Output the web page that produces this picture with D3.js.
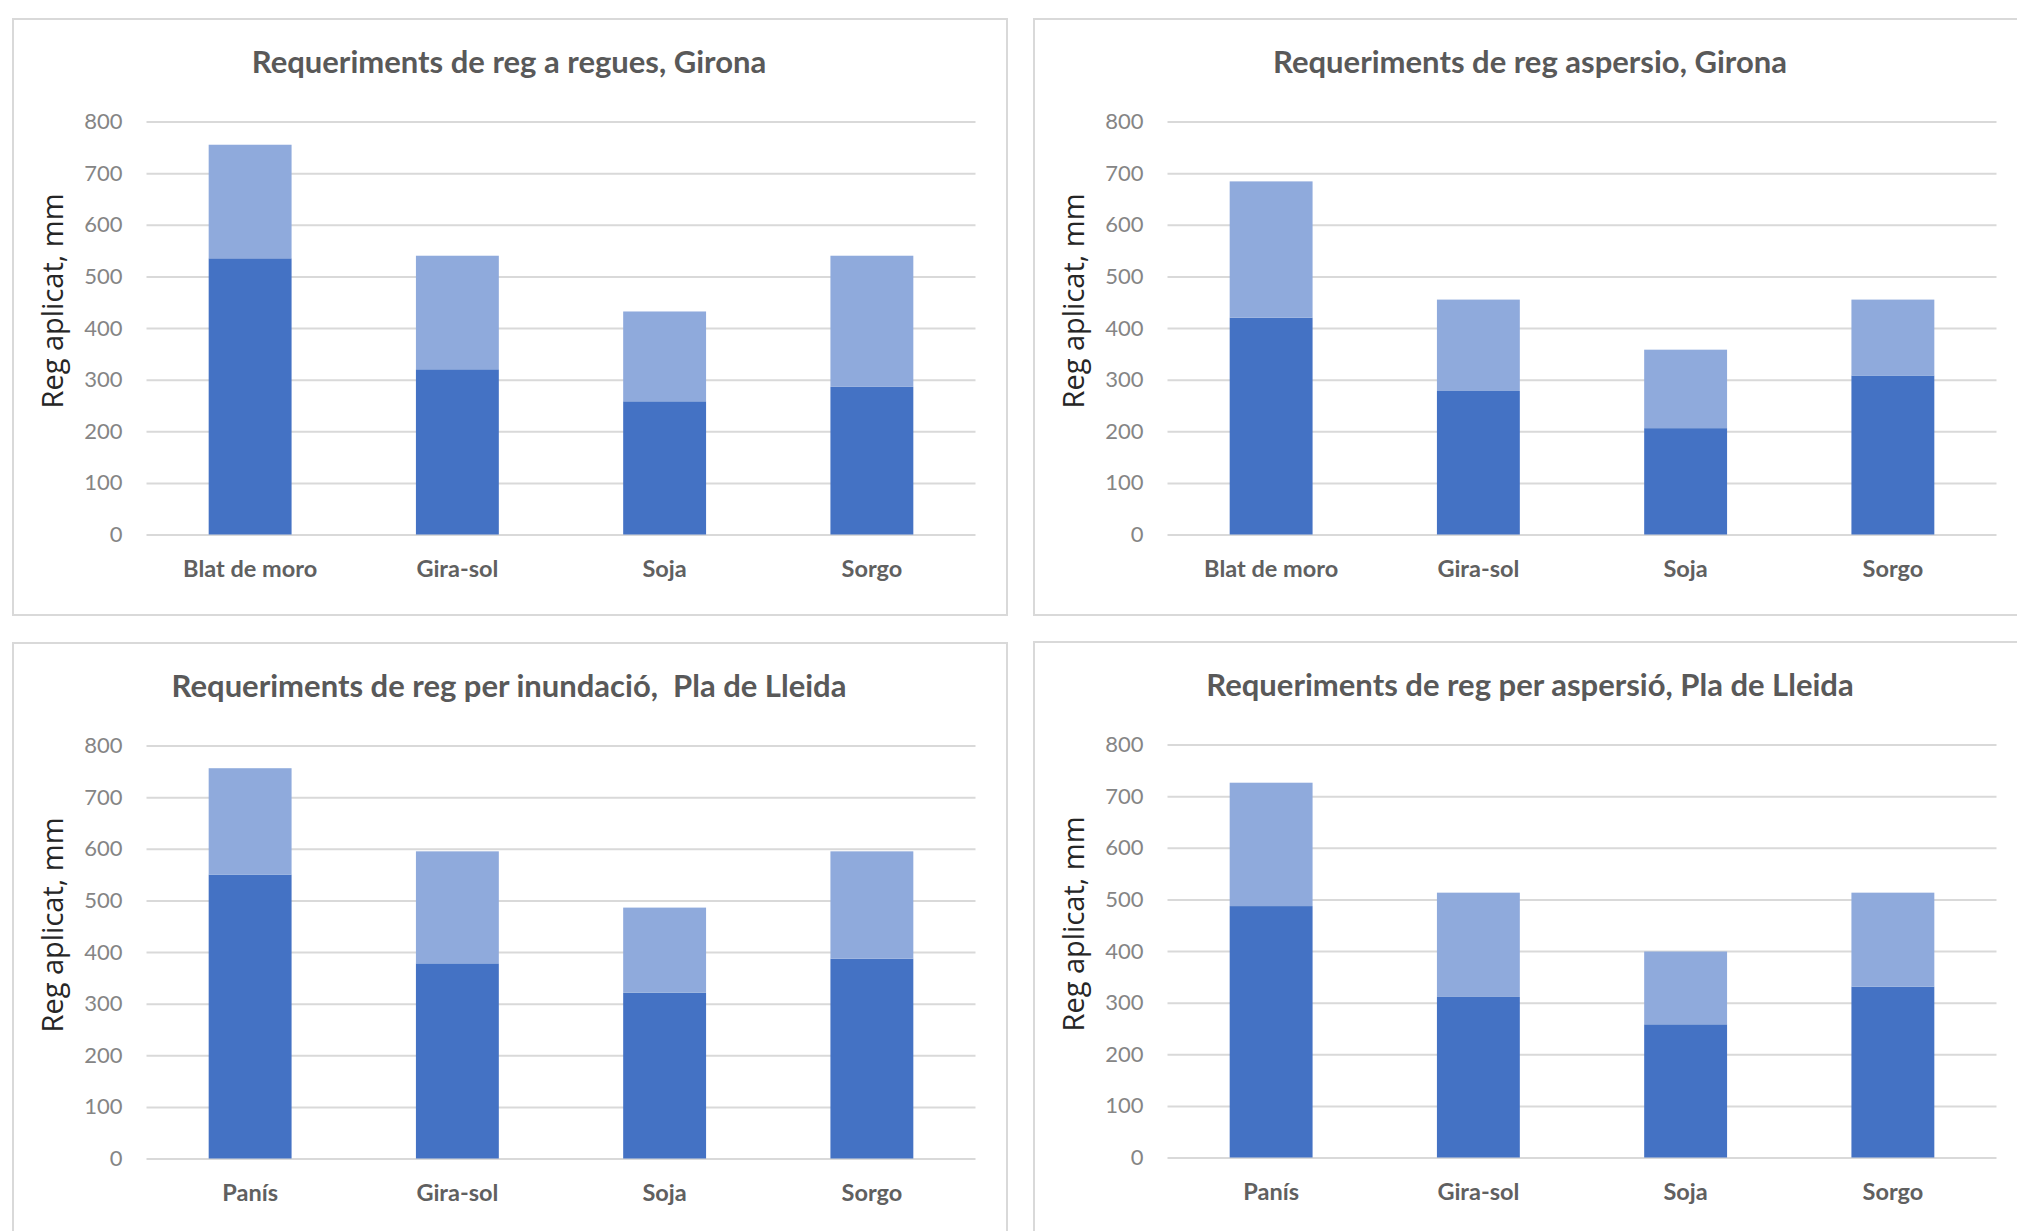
<!DOCTYPE html>
<html>
<head>
<meta charset="utf-8">
<script src="https://cdn.jsdelivr.net/npm/d3@7"></script>
<style>
  body { margin: 0; background: #fff; }
  svg { display: block; }
</style>
</head>
<body>
<script>
// crops for each region
var cropsGirona = ["Blat de moro", "Gira-sol", "Soja", "Sorgo"];
var cropsLleida = ["Panís", "Gira-sol", "Soja", "Sorgo"];

// dark part (lower) and light part (upper) of every stacked bar, mm
var regueDark   = [535, 320, 258, 286];
var regueLight  = [220, 220, 174, 254];
var asperGDark  = [420, 278, 206, 308];
var asperGLight = [264, 177, 152, 147];
var inundDark   = [550, 378, 321, 387];
var inundLight  = [206, 217, 165, 208];
var asperLDark  = [487, 311, 258, 331];
var asperLLight = [239, 202, 141, 182];

var yTicks = [0, 100, 200, 300, 400, 500, 600, 700, 800];
var yLabel = "Reg aplicat, mm";

var panels = [
  {title: "Requeriments de reg a regues, Girona", crops: cropsGirona, dark: regueDark, light: regueLight, x: 13, y: 19},
  {title: "Requeriments de reg aspersio, Girona", crops: cropsGirona, dark: asperGDark, light: asperGLight, x: 1034, y: 19},
  {title: "Requeriments de reg per inundació,  Pla de Lleida", crops: cropsLleida, dark: inundDark, light: inundLight, x: 13, y: 643},
  {title: "Requeriments de reg per aspersió, Pla de Lleida", crops: cropsLleida, dark: asperLDark, light: asperLLight, x: 1034, y: 642}
];

var W = 2017, H = 1231;
var svg = d3.select("body").append("svg")
  .attr("width", W)
  .attr("height", H);

var panelW = 994, panelH = 596;
var plotL = 133.5, plotR = 962.5, plotT = 102.5, plotB = 515.5;
var colors = ["#4472c4", "#8faadc"];

function drawPanel(p){
  var g = svg.append("g").attr("transform", "translate(" + p.x + "," + p.y + ")");

  g.append("rect")
    .attr("width", panelW)
    .attr("height", panelH)
    .attr("fill", "#fff")
    .attr("stroke", "#d9d9d9")
    .attr("stroke-width", 2);

  g.append("text")
    .attr("x", panelW / 2 - 1)
    .attr("y", 54)
    .attr("text-anchor", "middle")
    .style("font-family", "Lato, 'Open Sans', sans-serif")
    .style("font-size", "31px")
    .style("font-weight", "bold")
    .style("fill", "#595959")
    .style("white-space", "pre")
    .text(p.title);

  var x = d3.scaleBand()
    .domain(p.crops)
    .range([plotL, plotR])
    .paddingInner(0.6)
    .paddingOuter(0.3);

  var y = d3.scaleLinear()
    .domain([0, 800])
    .range([plotB, plotT]);

  // gridlines + tick labels
  var yAxis = g.append("g")
    .attr("transform", "translate(" + plotL + ",0)")
    .call(d3.axisLeft(y).tickValues(yTicks).tickSize(-(plotR - plotL)).tickPadding(24));
  yAxis.select(".domain").remove();
  yAxis.selectAll(".tick line")
    .attr("stroke", "#d9d9d9")
    .attr("stroke-width", 2);
  yAxis.selectAll(".tick text")
    .style("font-family", "Lato, sans-serif")
    .style("font-size", "22px")
    .style("fill", "#858585");

  var rows = p.crops.map(function(c, i){ return {crop: c, dark: p.dark[i], light: p.light[i]}; });
  var stacked = d3.stack().keys(["dark", "light"])(rows);

  g.selectAll("g.series")
    .data(stacked)
    .enter().append("g")
    .attr("class", "series")
    .attr("fill", function(d, i){ return colors[i]; })
    .selectAll("rect")
    .data(function(d){ return d; })
    .enter().append("rect")
    .attr("x", function(d){ return x(d.data.crop); })
    .attr("width", x.bandwidth())
    .attr("y", function(d){ return y(d[1]); })
    .attr("height", function(d){ return y(d[0]) - y(d[1]); });

  // category labels
  var xAxis = g.append("g")
    .attr("transform", "translate(0," + plotB + ")")
    .call(d3.axisBottom(x).tickSize(0).tickPadding(26));
  xAxis.select(".domain").remove();
  xAxis.selectAll(".tick text")
    .style("font-family", "Lato, sans-serif")
    .style("font-size", "23.5px")
    .style("font-weight", "bold")
    .style("fill", "#606060");

  g.append("text")
    .attr("transform", "translate(40," + 282 + ") rotate(-90)")
    .attr("text-anchor", "middle")
    .attr("dy", "0.35em")
    .style("font-family", "'Open Sans', sans-serif")
    .style("font-size", "29px")
    .style("fill", "#262626")
    .text(yLabel);
}

panels.forEach(drawPanel);
</script>
</body>
</html>
